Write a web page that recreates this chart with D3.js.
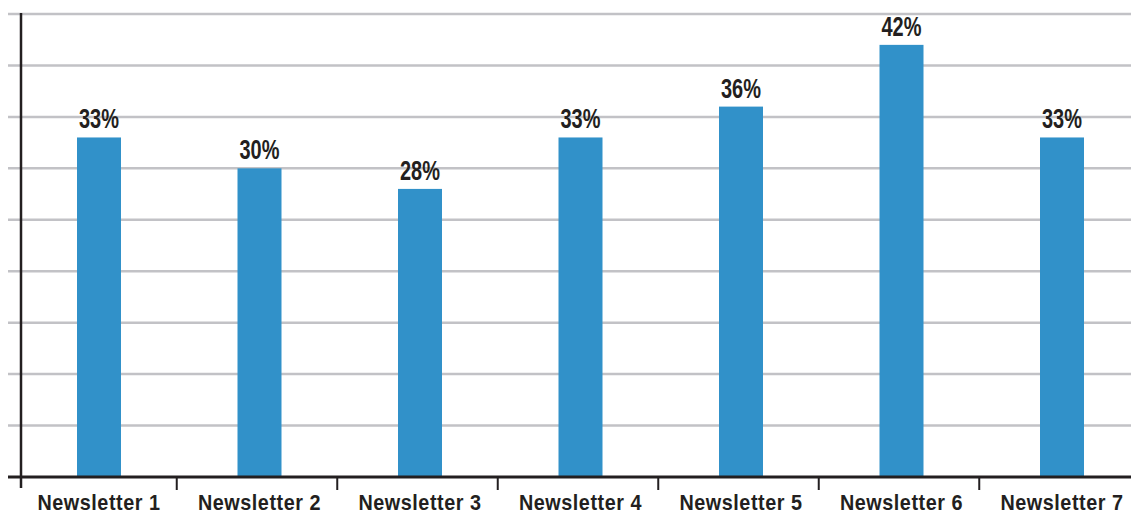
<!DOCTYPE html>
<html>
<head>
<meta charset="utf-8">
<script src="https://cdn.jsdelivr.net/npm/d3@7"></script>
<style>
  html, body { margin: 0; padding: 0; background: #fff; }
  svg { display: block; }
</style>
</head>
<body>
<svg id="chart" width="1131" height="515"></svg>
<script>
// Open rates per newsletter issue (percent)
const categories = ["Newsletter 1", "Newsletter 2", "Newsletter 3", "Newsletter 4", "Newsletter 5", "Newsletter 6", "Newsletter 7"];
const values = [33, 30, 28, 33, 36, 42, 33];
const gridValues = [5, 10, 15, 20, 25, 30, 35, 40, 45];

const W = 1131, H = 515;
const baseY = 477;
const axisX = 21;

const svg = d3.select("#chart");

const x = d3.scaleBand()
  .domain(categories)
  .range([18.75, 18.75 + 160.5 * categories.length])
  .paddingInner(0)
  .paddingOuter(0);

const y = d3.scaleLinear()
  .domain([0, 45])
  .range([baseY, 14]);

const barW = 44;
const ink = "#231f20";
const font = "'Liberation Sans', Arial, sans-serif";
const cx = c => x(c) + x.bandwidth() / 2;

// horizontal gridlines
svg.append("g")
  .selectAll("line")
  .data(gridValues)
  .join("line")
  .attr("x1", 8)
  .attr("x2", W)
  .attr("y1", d => y(d))
  .attr("y2", d => y(d))
  .attr("stroke", "#c2c2c6")
  .attr("stroke-width", 2.5);

// bars
svg.append("g")
  .selectAll("rect")
  .data(values)
  .join("rect")
  .attr("x", (d, i) => cx(categories[i]) - barW / 2)
  .attr("y", d => y(d))
  .attr("width", barW)
  .attr("height", d => y(0) - y(d))
  .attr("fill", "#3191c9");

// value labels (condensed bold)
svg.append("g")
  .selectAll("text")
  .data(values)
  .join("text")
  .attr("transform", (d, i) => `translate(${cx(categories[i])},${y(d) - 9}) scale(0.74,1)`)
  .attr("text-anchor", "middle")
  .attr("font-family", font)
  .attr("font-weight", "bold")
  .attr("font-size", 27)
  .attr("fill", ink)
  .text(d => d + "%");

// x axis (baseline, boundary ticks, labels)
const xAxis = svg.append("g");
xAxis.append("line")
  .attr("x1", 8).attr("x2", W)
  .attr("y1", baseY).attr("y2", baseY)
  .attr("stroke", ink).attr("stroke-width", 3);

xAxis.selectAll("line.tick")
  .data(categories.slice(1))
  .join("line")
  .attr("class", "tick")
  .attr("x1", d => x(d) - 2.5)
  .attr("x2", d => x(d) - 2.5)
  .attr("y1", baseY)
  .attr("y2", 490)
  .attr("stroke", ink)
  .attr("stroke-width", 2);

xAxis.selectAll("text")
  .data(categories)
  .join("text")
  .attr("transform", d => `translate(${cx(d)},510) scale(0.88,1)`)
  .attr("text-anchor", "middle")
  .attr("font-family", font)
  .attr("font-weight", "bold")
  .attr("font-size", 22.5)
  .attr("letter-spacing", 0.6)
  .attr("fill", ink)
  .text(d => d);

// y axis line
svg.append("line")
  .attr("x1", axisX).attr("x2", axisX)
  .attr("y1", 13).attr("y2", 488)
  .attr("stroke", ink).attr("stroke-width", 2.5);
</script>
</body>
</html>
